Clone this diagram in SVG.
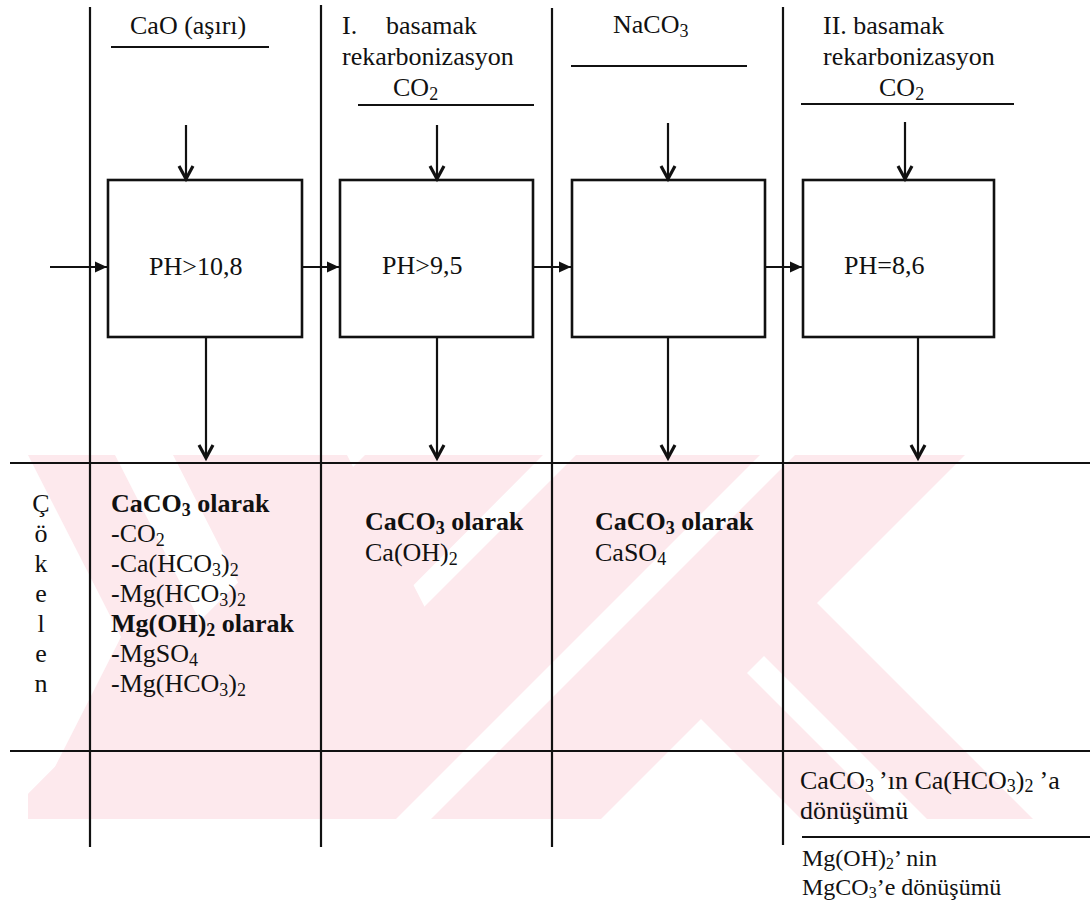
<svg xmlns="http://www.w3.org/2000/svg" width="1090" height="902" viewBox="0 0 1090 902">
<style>
text{font-family:"Liberation Serif","Times New Roman",serif;font-size:26px;fill:#111}
.b{font-weight:bold}
.s{font-size:18px}
.sm{font-size:24px}
.sm .s{font-size:16px}
.ln{stroke:#111;stroke-width:2.2;fill:none}
.box{stroke:#111;stroke-width:2.6;fill:none}
.ar{stroke:#111;stroke-width:2.2;fill:none}
.wm{fill:#fde9ed}
</style>
<defs>
<marker id="chev" markerUnits="userSpaceOnUse" markerWidth="30" markerHeight="30" viewBox="-20 -15 30 30" refX="0" refY="0" orient="auto" overflow="visible">
<path d="M-13,-7 L0,0 L-13,7" fill="none" stroke="#111" stroke-width="3.2" stroke-linejoin="miter"/>
</marker>
<marker id="tri" markerUnits="userSpaceOnUse" markerWidth="30" markerHeight="30" viewBox="-20 -15 30 30" refX="0" refY="0" orient="auto" overflow="visible">
<path d="M-12,-5.5 L0,0 L-12,5.5 Z" fill="#111"/>
</marker>
<clipPath id="wmclip"><rect x="28" y="455" width="1015" height="364"/></clipPath>
</defs>
<rect width="1090" height="902" fill="#fff"/>

<g id="watermark" clip-path="url(#wmclip)">
<polygon class="wm" points="173,455 347,455 440,637 347,820 173,820 266,637"/>
<polygon class="wm" points="28,455 115,455 208,637 115,820 28,820 121,637"/>
<polygon class="wm" points="365,455 543,455 180,820 2,820"/>
<polygon class="wm" points="576,455 760,455 395,820 211,820"/>
<polygon class="wm" points="795,455 965,455 600,820 430,820"/>
<polygon class="wm" points="754,646 807,593 1227,1013 1174,1066"/>
<polygon class="wm" points="691,709 737,663 1157,1083 1111,1129"/>
</g>

<g id="grid">
<line class="ln" x1="90" y1="7" x2="90" y2="847"/>
<line class="ln" x1="321" y1="5" x2="321" y2="847"/>
<line class="ln" x1="552" y1="8" x2="552" y2="847"/>
<line class="ln" x1="783" y1="7" x2="783" y2="845"/>
<line class="ln" x1="10" y1="463" x2="1090" y2="463"/>
<line class="ln" x1="10" y1="751" x2="1090" y2="751"/>
<line class="ln" x1="111" y1="47" x2="269" y2="47"/>
<line class="ln" x1="358" y1="105" x2="534" y2="105"/>
<line class="ln" x1="571" y1="66" x2="747" y2="66"/>
<line class="ln" x1="801" y1="104" x2="1014" y2="104"/>
<line class="ln" x1="802" y1="837" x2="1090" y2="837"/>
</g>

<g id="headers">
<text x="130" y="34">CaO (aşırı)</text>
<text y="34"><tspan x="342">I.</tspan><tspan x="386">basamak</tspan></text>
<text x="342" y="65">rekarbonizasyon</text>
<text x="393" y="96">CO<tspan class="s" dy="4">2</tspan></text>
<text x="613" y="33">NaCO<tspan class="s" dy="4">3</tspan></text>
<text x="823" y="34">II. basamak</text>
<text x="823" y="65">rekarbonizasyon</text>
<text x="879" y="96">CO<tspan class="s" dy="4">2</tspan></text>
</g>

<g id="box1"><rect class="box" x="108" y="180" width="194" height="157"/><text x="149" y="275">PH&gt;10,8</text></g>
<g id="box2"><rect class="box" x="340" y="180" width="193" height="157"/><text x="382" y="274">PH&gt;9,5</text></g>
<g id="box3"><rect class="box" x="572" y="180" width="193" height="157"/></g>
<g id="box4"><rect class="box" x="803" y="180" width="191" height="157"/><text x="844" y="274">PH=8,6</text></g>

<g id="connectors">
<line class="ar" x1="50" y1="267" x2="107" y2="267" marker-end="url(#tri)"/>
<line class="ar" x1="302" y1="267" x2="339" y2="267" marker-end="url(#tri)"/>
<line class="ar" x1="533" y1="267" x2="571" y2="267" marker-end="url(#tri)"/>
<line class="ar" x1="765" y1="267" x2="802" y2="267" marker-end="url(#tri)"/>
<line class="ar" x1="186" y1="125" x2="186" y2="179" marker-end="url(#chev)"/>
<line class="ar" x1="437" y1="125" x2="437" y2="179" marker-end="url(#chev)"/>
<line class="ar" x1="668" y1="123" x2="668" y2="179" marker-end="url(#chev)"/>
<line class="ar" x1="905" y1="122" x2="905" y2="179" marker-end="url(#chev)"/>
<line class="ar" x1="206" y1="337" x2="206" y2="458" marker-end="url(#chev)"/>
<line class="ar" x1="437" y1="337" x2="437" y2="458" marker-end="url(#chev)"/>
<line class="ar" x1="668" y1="337" x2="668" y2="458" marker-end="url(#chev)"/>
<line class="ar" x1="918" y1="337" x2="918" y2="458" marker-end="url(#chev)"/>
</g>

<g id="cokelen" text-anchor="middle">
<text x="41" y="512">Ç</text>
<text x="41" y="542">ö</text>
<text x="41" y="572">k</text>
<text x="41" y="602">e</text>
<text x="41" y="632">l</text>
<text x="41" y="662">e</text>
<text x="41" y="692">n</text>
</g>

<g id="col1">
<text class="b" x="111" y="512">CaCO<tspan class="s" dy="4">3</tspan><tspan dy="-4"> olarak</tspan></text>
<text x="111" y="542">-CO<tspan class="s" dy="4">2</tspan></text>
<text x="111" y="572">-Ca(HCO<tspan class="s" dy="4">3</tspan><tspan dy="-4">)</tspan><tspan class="s" dy="4">2</tspan></text>
<text x="111" y="602">-Mg(HCO<tspan class="s" dy="4">3</tspan><tspan dy="-4">)</tspan><tspan class="s" dy="4">2</tspan></text>
<text class="b" x="111" y="632">Mg(OH)<tspan class="s" dy="4">2</tspan><tspan dy="-4"> olarak</tspan></text>
<text x="111" y="662">-MgSO<tspan class="s" dy="4">4</tspan></text>
<text x="111" y="692">-Mg(HCO<tspan class="s" dy="4">3</tspan><tspan dy="-4">)</tspan><tspan class="s" dy="4">2</tspan></text>
</g>

<g id="col2">
<text class="b" x="365" y="530">CaCO<tspan class="s" dy="4">3</tspan><tspan dy="-4"> olarak</tspan></text>
<text x="365" y="561">Ca(OH)<tspan class="s" dy="4">2</tspan></text>
</g>

<g id="col3">
<text class="b" x="595" y="530">CaCO<tspan class="s" dy="4">3</tspan><tspan dy="-4"> olarak</tspan></text>
<text x="595" y="561">CaSO<tspan class="s" dy="4">4</tspan></text>
</g>

<g id="col4">
<text x="800" y="789">CaCO<tspan class="s" dy="3">3</tspan><tspan dy="-3" dx="5">’ın Ca(HCO</tspan><tspan class="s" dy="3">3</tspan><tspan dy="-3">)</tspan><tspan class="s" dy="3">2</tspan><tspan dy="-3" dx="6">’a</tspan></text>
<text x="800" y="819">dönüşümü</text>
<text class="sm" x="802" y="866">Mg(OH)<tspan class="s" dy="3">2</tspan><tspan dy="-3">’ nin</tspan></text>
<text class="sm" x="802" y="895">MgCO<tspan class="s" dy="3">3</tspan><tspan dy="-3">’e dönüşümü</tspan></text>
</g>
</svg>
